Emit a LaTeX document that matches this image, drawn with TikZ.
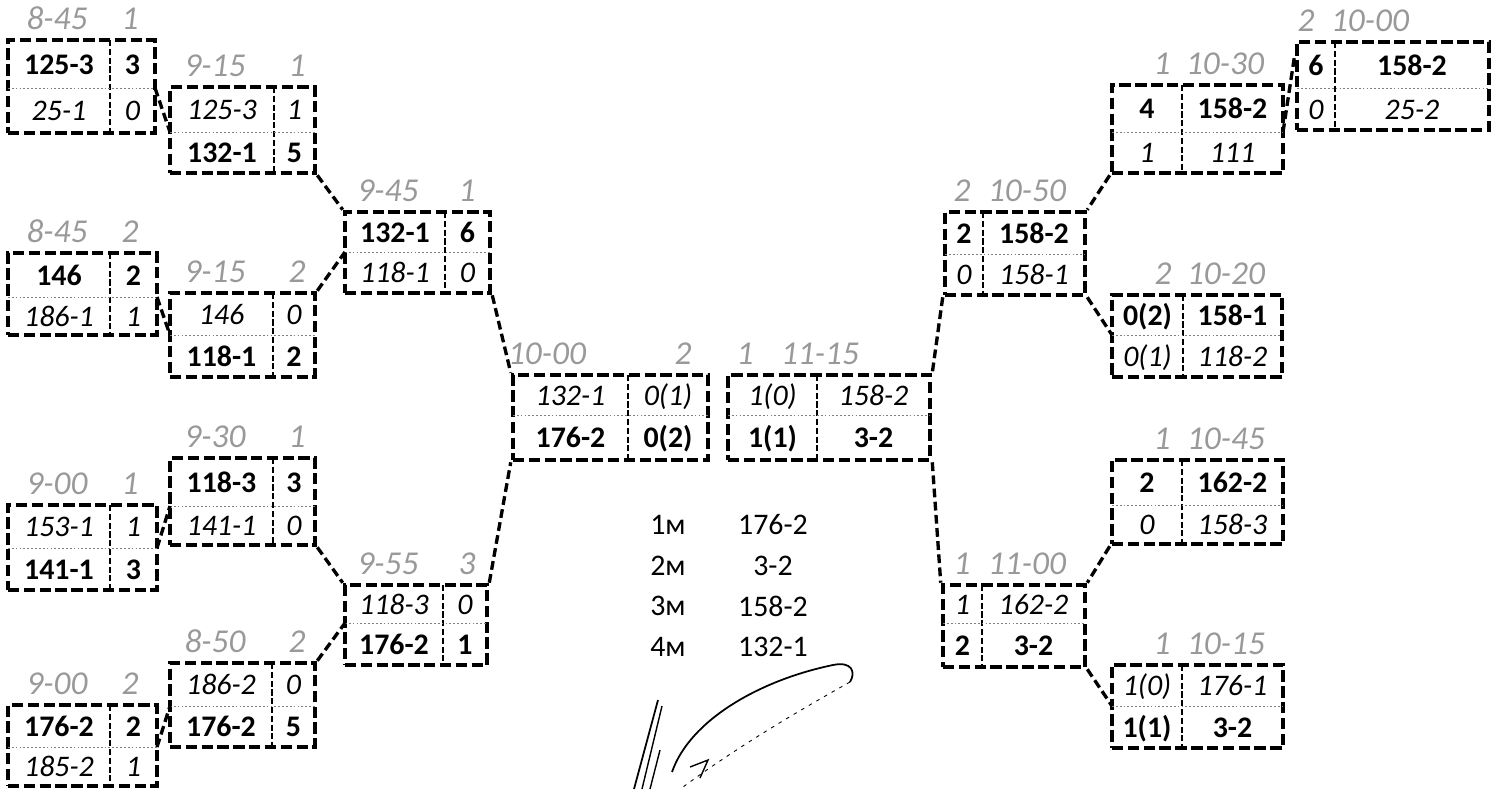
\documentclass[tikz,border=0pt]{standalone}
\usepackage{fontspec}
\setmainfont{Carlito}
\usetikzlibrary{fit,calc}

% box frame: name, left, top, right, bottom, column x, row y
\newcommand{\bout}[7]{%
  \node[boxline, fit={(#2,#3) (#4,#5)}] (#1) {};
  \draw[coldiv] (#6,#3) -- (#6,#5);
  \draw[rowdiv] (#2,#7) -- (#4,#7);
  \coordinate (#1-w) at (#2,#7);
  \coordinate (#1-e) at (#4,#7);
  \coordinate (#1-a) at ({(#2+#6)/2},{(#3+#7)/2});
  \coordinate (#1-b) at ({(#6+#4)/2},{(#3+#7)/2});
  \coordinate (#1-c) at ({(#2+#6)/2},{(#7+#5)/2});
  \coordinate (#1-d) at ({(#6+#4)/2},{(#7+#5)/2});
}
% texts of the four cells
\newcommand{\cells}[5]{%
  \node[cell] (#1-1) at (#1-a) {#2};
  \node[cell] (#1-2) at (#1-b) {#3};
  \node[cell] (#1-3) at (#1-c) {#4};
  \node[cell] (#1-4) at (#1-d) {#5};
}
% faded tags above a box: name, top, x1, text1, x2, text2
\newcommand{\tags}[6]{%
  \node[tlabel] (#1-t1) at (#3,#2) {#4};
  \node[tlabel] (#1-t2) at (#5,#2) {#6};
}
\newcommand{\won}[1]{\textbf{#1}}
\newcommand{\lost}[1]{\textit{#1}}

\begin{document}
\begin{tikzpicture}[x=0.02cm, y=-0.02cm,
    boxline/.style={draw, line width=2.6pt, dash pattern=on 6.5pt off 2.5pt, inner sep=0pt},
    coldiv/.style={line width=1.2pt, dash pattern=on 3.5pt off 1.5pt},
    rowdiv/.style={line width=0.4pt, black!50, dash pattern=on 1pt off 1.2pt},
    link/.style={line width=1.9pt, dash pattern=on 5pt off 2.5pt},
    cell/.style={font=\fontsize{17}{20}\selectfont, inner sep=0pt, text height=11.5pt, text depth=0pt},
    tlabel/.style={font=\itshape\fontsize{19}{22}\selectfont, text=black!40, inner sep=0pt, anchor=base, yshift=0.22cm},
    place/.style={font=\fontsize{17}{20}\selectfont, inner sep=0pt}]
  \useasboundingbox (0,0) rectangle (1493,789);

  % left half
  \bout{l1a}{8}{40}{155}{133}{110}{88}
  \cells{l1a}{\won{125-3}}{\won{3}}{\lost{25-1}}{\lost{0}}
  \tags{l1a}{40}{57}{8-45}{130}{1}
  \bout{l1b}{170}{87}{315}{173}{274}{132}
  \cells{l1b}{\lost{125-3}}{\lost{1}}{\won{132-1}}{\won{5}}
  \tags{l1b}{87}{215}{9-15}{297}{1}
  \bout{l2a}{8}{253}{157}{335}{110}{297}
  \cells{l2a}{\won{146}}{\won{2}}{\lost{186-1}}{\lost{1}}
  \tags{l2a}{253}{57}{8-45}{130}{2}
  \bout{l2b}{170}{293}{315}{377}{273}{335}
  \cells{l2b}{\lost{146}}{\lost{0}}{\won{118-1}}{\won{2}}
  \tags{l2b}{293}{215}{9-15}{297}{2}
  \bout{l3}{345}{212}{490}{293}{445}{252}
  \cells{l3}{\won{132-1}}{\won{6}}{\lost{118-1}}{\lost{0}}
  \tags{l3}{212}{388}{9-45}{467}{1}
  \bout{l4b}{170}{458}{315}{545}{273}{506}
  \cells{l4b}{\won{118-3}}{\won{3}}{\lost{141-1}}{\lost{0}}
  \tags{l4b}{458}{215}{9-30}{297}{1}
  \bout{l4a}{8}{505}{157}{590}{110}{548}
  \cells{l4a}{\lost{153-1}}{\lost{1}}{\won{141-1}}{\won{3}}
  \tags{l4a}{505}{57}{9-00}{130}{1}
  \bout{l5}{345}{585}{487}{665}{443}{623}
  \cells{l5}{\lost{118-3}}{\lost{0}}{\won{176-2}}{\won{1}}
  \tags{l5}{585}{388}{9-55}{467}{3}
  \bout{l6b}{170}{663}{315}{747}{272}{706}
  \cells{l6b}{\lost{186-2}}{\lost{0}}{\won{176-2}}{\won{5}}
  \tags{l6b}{663}{215}{8-50}{297}{2}
  \bout{l6a}{8}{705}{157}{786}{110}{747}
  \cells{l6a}{\won{176-2}}{\won{2}}{\lost{185-2}}{\lost{1}}
  \tags{l6a}{705}{57}{9-00}{130}{2}

  % finals
  \bout{cl}{513}{375}{708}{460}{628}{415}
  \cells{cl}{\lost{132-1}}{\lost{0(1)}}{\won{176-2}}{\won{0(2)}}
  \tags{cl}{375}{547}{10-00}{683}{2}
  \bout{cr}{728}{375}{930}{460}{817}{415}
  \cells{cr}{\lost{1(0)}}{\lost{158-2}}{\won{1(1)}}{\won{3-2}}
  \tags{cr}{375}{745}{1}{820}{11-15}

  % right half
  \bout{r1b}{1297}{42}{1489}{130}{1335}{88}
  \cells{r1b}{\won{6}}{\won{158-2}}{\lost{0}}{\lost{25-2}}
  \tags{r1b}{42}{1306}{2}{1370}{10-00}
  \bout{r1a}{1112}{85}{1283}{173}{1182}{132}
  \cells{r1a}{\won{4}}{\won{158-2}}{\lost{1}}{\lost{111}}
  \tags{r1a}{85}{1162}{1}{1225}{10-30}
  \bout{r2}{945}{212}{1085}{295}{983}{254}
  \cells{r2}{\won{2}}{\won{158-2}}{\lost{0}}{\lost{158-1}}
  \tags{r2}{212}{962}{2}{1027}{10-50}
  \bout{r2b}{1112}{295}{1282}{377}{1183}{335}
  \cells{r2b}{\won{0(2)}}{\won{158-1}}{\lost{0(1)}}{\lost{118-2}}
  \tags{r2b}{295}{1163}{2}{1226}{10-20}
  \bout{r3a}{1112}{460}{1283}{544}{1182}{505}
  \cells{r3a}{\won{2}}{\won{162-2}}{\lost{0}}{\lost{158-3}}
  \tags{r3a}{460}{1162}{1}{1226}{10-45}
  \bout{r4}{943}{585}{1085}{667}{982}{623}
  \cells{r4}{\lost{1}}{\lost{162-2}}{\won{2}}{\won{3-2}}
  \tags{r4}{585}{962}{1}{1027}{11-00}
  \bout{r3b}{1112}{665}{1283}{748}{1182}{706}
  \cells{r3b}{\lost{1(0)}}{\lost{176-1}}{\won{1(1)}}{\won{3-2}}
  \tags{r3b}{665}{1162}{1}{1226}{10-15}

  % connectors
  \draw[link] (l1a-e) -- (l1b-w);
  \draw[link] (l1b.south east) -- (l3.north west);
  \draw[link] (l2a-e) -- (l2b-w);
  \draw[link] (l2b.north east) -- (l3-w);
  \draw[link] (l3.south east) -- (cl.north west);
  \draw[link] (l4a-e) -- (l4b-w);
  \draw[link] (l4b.south east) -- (l5.north west);
  \draw[link] (l6a-e) -- (l6b-w);
  \draw[link] (l6b.north east) -- (l5-w);
  \draw[link] (l5.north east) -- (cl.south west);
  \draw[link] (r1a-e) -- ($(r1b.north west)+(0,15)$);
  \draw[link] (r1a.south west) -- (r2.north east);
  \draw[link] (r2.south east) -- (r2b-w);
  \draw[link] (r2.south west) -- (cr.north east);
  \draw[link] (cr.south east) -- (r4.north west);
  \draw[link] (r3a.south west) -- (r4.north east);
  \draw[link] (r4.south east) -- (r3b-w);

  % standings
  \foreach \p/\t [count=\i] in {1м/176-2, 2м/3-2, 3м/158-2, 4м/132-1} {
    \node[place] (rank\i) at (668,{484+40.7*\i}) {\p};
    \node[place] (team\i) at (773,{484+40.7*\i}) {\t};
  }

  % signature
  \draw[line width=1pt] (672,772) .. controls (690,720) and (760,680) .. (833,665)
    .. controls (852,661) and (856,672) .. (850,682);
  \draw[line width=0.5pt, dash pattern=on 2pt off 3pt] (850,682) .. controls (800,710) and (740,745) .. (683,787);
  \draw[line width=1pt] (658,700) -- (634,789);
  \draw[line width=0.8pt] (662,706) -- (642,789);
  \draw[line width=0.8pt] (660,750) -- (650,789);
  \draw[line width=0.8pt] (690,767) -- (708,760) -- (700,778);
\end{tikzpicture}
\end{document}
